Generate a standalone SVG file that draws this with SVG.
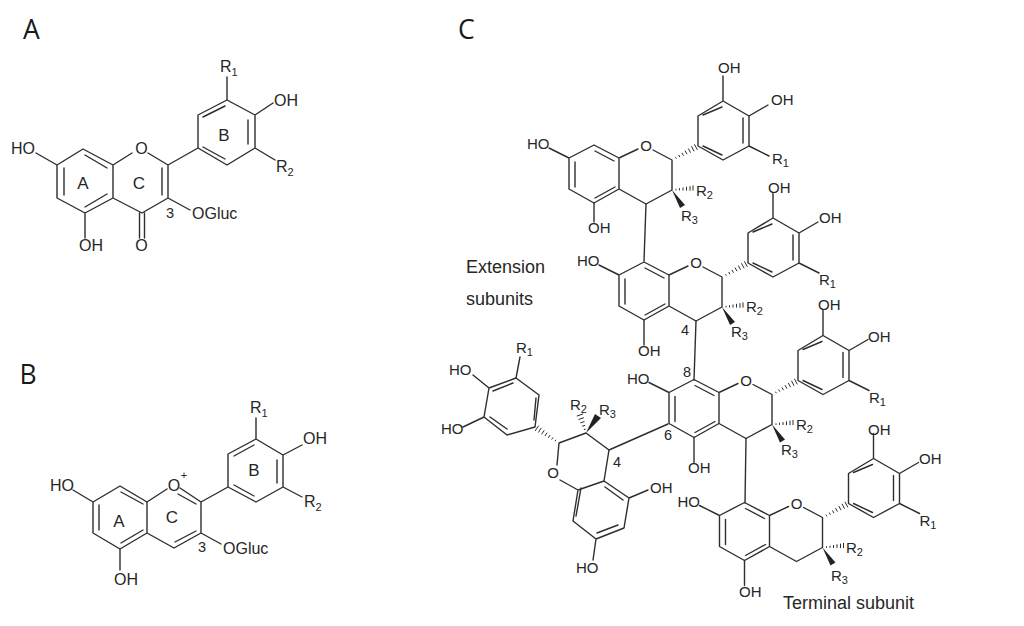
<svg xmlns="http://www.w3.org/2000/svg" xmlns:xlink="http://www.w3.org/1999/xlink" width="1024" height="626" viewBox="0 0 1024 626">
<style>
.b{fill:none;stroke:#2e2e2e;stroke-width:1.4;stroke-linecap:round;stroke-linejoin:round}
.h{fill:none;stroke:#2e2e2e;stroke-width:1;stroke-linecap:butt}
.w{fill:#222;stroke:none}
text{font-family:"Liberation Sans",Arial,sans-serif;fill:#262626}
.t{font-size:15px}
.m{text-anchor:middle}
.big{font-size:16px}
.r{font-size:17px}
.n{font-size:14.500px}
.lab{font-size:18px}
.p{font-family:"Open Sans",sans-serif;font-size:26.500px;fill:#1a1a1a}
.s{font-size:11px}
</style>
<defs>
<g id="flavan">
<path class="b" d="M569 158L594 145L619 158V189L594 203L569 189ZM575 162V187M595 151L614 161M595 198L615 187M549 148L569 158M619 158L638 149M653 150L672 160V190L646 204L619 189M698 146V116L723 101L749 116V146L723 160ZM703 146L722 155M703 115L722 107M743 118V143M723 101V76M749 116L768 105M749 146L769 156"/>
<polygon class="w" points="672,190 685,205 680,208"/>
<path class="h" d="M675.5 157.2L676.3 158.7M678.7 155L679.9 157.2M681.9 152.9L683.5 155.7M685 150.6L687 154.2M688.3 148.5L690.5 152.7M691.5 146.3L694.1 151.3M694.4 144.3L697.4 149.9M676 188.8V190.4M679.5 188.2V190.4M683 187.5V190.5M686.5 186.8V190.6M690 186.1V190.7M693 185.4V190.6"/>
</g>
</defs>

<g id="panel-labels">
<text class="p" x="23" y="38.500">A</text>
<text class="p" x="19.500" y="384">B</text>
<text class="p" x="458" y="39">C</text>
</g>

<g id="structure-A">
<path class="b" d="M57 165L83 149L113 165V198L85 213L57 198ZM64 168V195M85 155L107 168M85 207L107 194M36 153L57 165M85 213V238M113 165L132 153M148 153L168 165V198L142 213L113 198M162 168V195M168 165L198 148M139.500 213V238M144.500 213V238M168 198L190 210M198 148V115L227 100L255 115V148L227 165ZM203 147L225 159M203 117L225 106M248 120V144M227 100V77M255 115L273 103M255 148L275 160"/>
<text class="big" x="11" y="154">HO</text>
<text class="big m" x="141.500" y="154">O</text>
<text class="big" x="79" y="251">OH</text>
<text class="big m" x="141.500" y="251">O</text>
<text class="r m" x="83" y="189">A</text>
<text class="r m" x="139" y="189">C</text>
<text class="r m" x="224" y="141">B</text>
<text class="n m" x="170" y="218">3</text>
<text class="big" x="192" y="219">OGluc</text>
<text class="big" x="220" y="72">R<tspan class="s" dy="4">1</tspan></text>
<text class="big" x="274" y="105.500">OH</text>
<text class="big" x="276" y="172">R<tspan class="s" dy="4">2</tspan></text>
</g>

<g id="structure-B">
<path class="b" d="M93 502L120 486L147 502V533L120 549L93 533ZM99 505V530M121 492L143 504M121 543L143 530M73 490L93 502M120 549V570M147 502L167 489M180 488L201 502V533L174 548L147 533M178 494L196 504M175 542L196 531M201 502L228 487M201 533L221 544M228 487V454L256 439L283 455V487L256 502ZM234 485L254 496M234 456L254 445M277 460V483M256 439V418M283 455L302 445M283 487L302 497"/>
<text class="big" x="50" y="491">HO</text>
<text class="big m" x="174" y="491">O</text>
<text class="s m" x="184" y="479">+</text>
<text class="big" x="114" y="585">OH</text>
<text class="r m" x="119" y="527">A</text>
<text class="r m" x="172" y="523">C</text>
<text class="r m" x="254" y="476">B</text>
<text class="n m" x="202" y="552">3</text>
<text class="big" x="223" y="554">OGluc</text>
<text class="big" x="250" y="413">R<tspan class="s" dy="4">1</tspan></text>
<text class="big" x="303" y="444">OH</text>
<text class="big" x="304" y="507">R<tspan class="s" dy="4">2</tspan></text>
</g>

<g id="connectors">
<path class="b" d="M646 204L644 261M696 321L694 380M746 438.500L745 503M609 450L668 424"/>
</g>

<g id="unit-1">
<use xlink:href="#flavan" href="#flavan"/>
<path class="b" d="M594 203V222"/>
<text class="t" x="527" y="149">HO</text>
<text class="t m" x="646" y="151">O</text>
<text class="t" x="588" y="233">OH</text>
<text class="t" x="718" y="72.500">OH</text>
<text class="t" x="771" y="105">OH</text>
<text class="t" x="772" y="164">R<tspan class="s" dy="3">1</tspan></text>
<text class="t" x="696" y="195.500">R<tspan class="s" dy="3">2</tspan></text>
<text class="t" x="681" y="220.500">R<tspan class="s" dy="3">3</tspan></text>
</g>

<g id="unit-2" transform="translate(50 117)">
<use xlink:href="#flavan" href="#flavan"/>
<path class="b" d="M594 203V228"/>
<text class="t" x="527" y="149">HO</text>
<text class="t m" x="646" y="151">O</text>
<text class="t" x="588" y="239">OH</text>
<text class="t" x="718" y="75.500">OH</text>
<text class="t" x="769" y="106">OH</text>
<text class="t" x="769" y="168">R<tspan class="s" dy="3">1</tspan></text>
<text class="t" x="696" y="195">R<tspan class="s" dy="3">2</tspan></text>
<text class="t" x="681" y="220">R<tspan class="s" dy="3">3</tspan></text>
<text class="n m" x="635" y="218">4</text>
</g>

<g id="unit-3" transform="translate(100 234.500)">
<use xlink:href="#flavan" href="#flavan"/>
<path class="b" d="M594 203V228"/>
<text class="t" x="527" y="149.500">HO</text>
<text class="t m" x="646" y="151">O</text>
<text class="t" x="588" y="238">OH</text>
<text class="t" x="718" y="75.500">OH</text>
<text class="t" x="768" y="107">OH</text>
<text class="t" x="769" y="168">R<tspan class="s" dy="3">1</tspan></text>
<text class="t" x="696" y="195.500">R<tspan class="s" dy="3">2</tspan></text>
<text class="t" x="681" y="220.500">R<tspan class="s" dy="3">3</tspan></text>
<text class="n m" x="587" y="142.500">8</text>
<text class="n m" x="568" y="205.500">6</text>
</g>

<g id="unit-4" transform="translate(150.500 357.500)">
<use xlink:href="#flavan" href="#flavan"/>
<path class="b" d="M594 203V228"/>
<text class="t" x="527" y="149.500">HO</text>
<text class="t m" x="646" y="151">O</text>
<text class="t" x="588.500" y="239.500">OH</text>
<text class="t" x="717.500" y="77.500">OH</text>
<text class="t" x="768.500" y="106.500">OH</text>
<text class="t" x="769" y="168">R<tspan class="s" dy="3">1</tspan></text>
<text class="t" x="695.500" y="195">R<tspan class="s" dy="3">2</tspan></text>
<text class="t" x="680.500" y="223">R<tspan class="s" dy="3">3</tspan></text>
</g>

<g id="unit-5">
<path class="b" d="M586 433L609 450L604 481L629 498L624 528L596 539L573 521L578 490L604 481M581 488L576 516M605 487L623 500M597 533L618 525M578 490L560 480M557 465L559 443L586 433M629 498L648 490M596 539L593 560M535 427L539 395L516 378L489 388L484 417L507 435ZM534 420L536 398M513 383L493 391M490 417L507 429M516 378L520 357M489 388L473 375M484 417L463 427"/>
<polygon class="w" points="586,433 595,414 601,418"/>
<path class="h" d="M554.900 441.300L555.900 439.900M551.600 439.500L553 437.500M548.300 437.800L550.100 435M544.900 436.100L547.100 432.700M541.600 434.300L544.200 430.300M538.300 432.500L541.300 427.900M535.200 430.900L538.600 425.700M583.900 429.700L585.700 429.100M582.100 426.300L585.100 425.300M580.300 422.900L584.500 421.500M578.500 419.500L583.900 417.700M576.800 416.100L583.200 413.900"/>
<text class="t m" x="553" y="478">O</text>
<text class="t" x="650" y="493">OH</text>
<text class="t" x="576" y="573">HO</text>
<text class="t" x="516" y="353">R<tspan class="s" dy="3">1</tspan></text>
<text class="t" x="449" y="375">HO</text>
<text class="t" x="441" y="434">HO</text>
<text class="t" x="570" y="410">R<tspan class="s" dy="3">2</tspan></text>
<text class="t" x="599" y="415">R<tspan class="s" dy="3">3</tspan></text>
<text class="n m" x="617" y="467">4</text>
</g>

<g id="captions">
<text class="lab" x="466" y="273">Extension</text>
<text class="lab" x="466" y="305">subunits</text>
<text class="lab" x="783" y="609">Terminal subunit</text>
</g>
</svg>
